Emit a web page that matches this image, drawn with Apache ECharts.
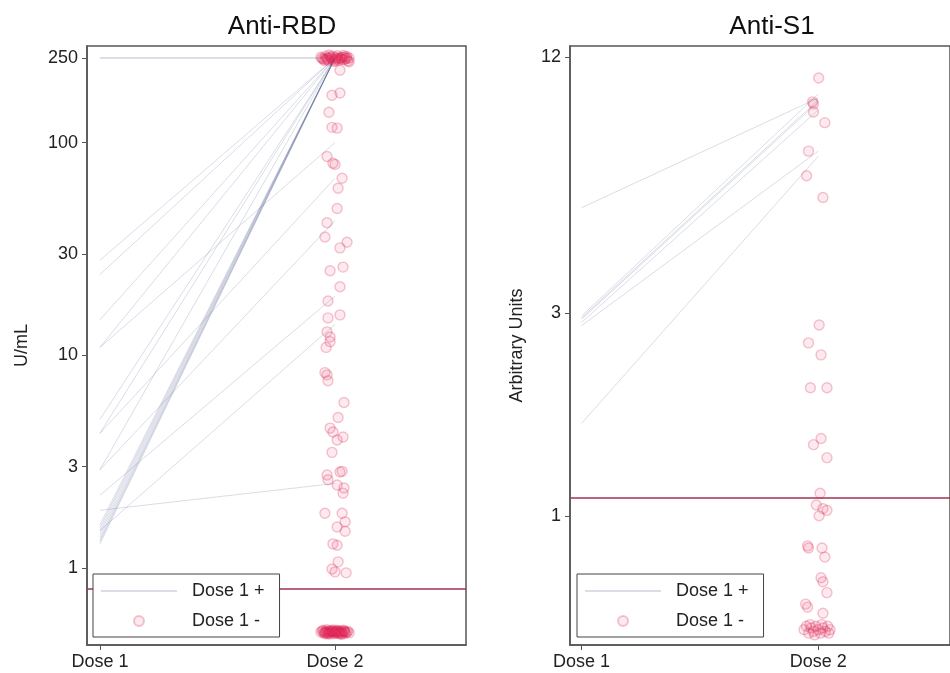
<!DOCTYPE html>
<html>
  <head>
    <meta charset="utf-8">
    <title></title>
    <style>
      html, body{ margin:0; padding:0; background:#fff; }
      #wrap{ width:950px; height:673px; }
    </style>
    <script src="https://cdn.jsdelivr.net/npm/echarts@6/dist/echarts.min.js" charset="utf-8"></script>
  </head>
  <body>
    <div id="wrap"></div>
    <script>
    // x categories (value axis, Dose 1 = 1, Dose 2 = 2)
    var doseLabels = ['Dose 1', 'Dose 2'];
    var panelTitles = ['Anti-RBD', 'Anti-S1'];
    var axisNames = ['U/mL', 'Arbitrary Units'];
    var rbdTicks = [1, 3, 10, 30, 100, 250];
    var s1Ticks = [1, 3, 12];
    var rbdCutoff = 0.8;
    var s1Cutoff = 1.1;

    // Anti-RBD, dose 1 positive: paired values
    var rbdDose1 = [250, 250, 28, 24, 14.7, 10.9, 5.0, 4.3, 2.9, 1.87, 1.3, 1.33, 1.36, 1.4, 1.45, 1.5, 1.55, 1.6, 10.9, 4.3, 2.9, 2.2, 1.5];
    var rbdDose2 = [250, 250, 250, 250, 250, 250, 250, 250, 250, 2.5, 250, 250, 250, 250, 250, 250, 250, 250, 100, 68, 43, 19, 14];

    // Anti-RBD, dose 1 negative: [jittered x, value]
    var rbdNeg = [
      [1.94,252],[1.95,247],[1.96,255],[1.97,249],[1.98,253],[1.99,246],[2.00,251],[2.01,256],[2.02,248],
      [2.03,252],[2.04,245],[2.05,254],[2.06,250],[1.955,243],[1.975,258],[1.995,241],[2.015,244],[2.035,257],
      [2.055,242],[1.965,250],[2.025,250],[2.045,249],[1.985,250],[2.005,247],[2.06,240],
      [1.945,249],[1.97,244],[1.99,255],[2.01,250],[2.03,246],[2.05,249],[1.96,246],[2.0,243],[2.04,253],
      [2.021,219],[1.987,167],[2.021,171],[1.974,139],[1.987,118],[2.009,117],[1.966,86],[1.991,80],[2.0,79],
      [2.03,68],[2.013,61],[2.009,49],[1.966,42],[1.957,36],[2.051,34],[2.021,32],[1.979,25],[2.034,26],
      [2.021,21],[1.97,18],[2.021,15.5],[1.97,15],[1.966,12.9],[1.979,12.2],[1.979,11.6],[1.962,10.9],
      [1.957,8.3],[1.966,8.1],[1.97,7.6],[2.038,6.0],[2.013,5.1],[1.979,4.55],[1.991,4.36],[2.034,4.13],
      [2.009,4.0],[1.987,3.5],[2.021,2.83],[2.03,2.85],[1.966,2.74],[1.97,2.6],[2.009,2.46],[2.038,2.38],
      [2.034,2.25],[1.957,1.81],[2.03,1.81],[2.043,1.65],[2.009,1.56],[2.043,1.49],[1.991,1.30],[2.009,1.28],
      [2.013,1.07],[1.987,0.99],[2.0,0.96],[2.047,0.95],
      [1.94,0.50],[1.95,0.51],[1.96,0.495],[1.97,0.505],[1.98,0.49],[1.99,0.512],[2.00,0.50],[2.01,0.493],
      [2.02,0.508],[2.03,0.497],[2.04,0.503],[2.05,0.50],[2.06,0.496],[1.945,0.507],[1.955,0.492],[1.965,0.513],
      [1.975,0.498],[1.985,0.506],[1.995,0.491],[2.005,0.511],[2.015,0.499],[2.025,0.489],[2.035,0.51],
      [2.045,0.494],[2.055,0.505],[1.962,0.50],[1.982,0.50],[2.002,0.502],[2.022,0.50],[2.042,0.501],
      [1.952,0.499],[1.972,0.495],[1.992,0.504],[2.012,0.506],[2.032,0.49],[1.958,0.503],[1.978,0.508],
      [1.998,0.497],[2.018,0.493],[2.038,0.507],[1.968,0.49],[1.988,0.501],[2.008,0.505],[2.028,0.502]
    ];

    // Anti-S1, dose 1 positive: paired values
    var s1Dose1 = [2.95, 2.92, 2.9, 2.85, 5.3, 2.8, 1.65];
    var s1Dose2 = [9.8, 9.5, 9.4, 9.0, 9.6, 7.2, 7.0];

    // Anti-S1, dose 1 negative: [jittered x, value]
    var s1Neg = [
      [2.002,10.7],[1.976,9.4],[1.98,9.3],[1.98,8.9],[2.028,8.4],[1.959,7.2],[1.951,6.3],[2.02,5.6],
      [2.004,2.81],[1.959,2.55],[2.012,2.39],[1.967,2.0],[2.037,2.0],[1.98,1.47],[2.012,1.52],[2.037,1.37],
      [2.008,1.13],[1.992,1.06],[2.02,1.04],[2.037,1.03],[2.004,1.0],[1.955,0.85],[1.959,0.84],[2.016,0.84],
      [2.028,0.80],[2.012,0.715],[2.02,0.70],[2.037,0.66],[1.947,0.62],[1.955,0.61],[2.02,0.59],
      [1.94,0.54],[1.95,0.55],[1.96,0.53],[1.97,0.545],[1.98,0.535],[1.99,0.55],[2.00,0.54],[2.01,0.53],
      [2.02,0.545],[2.03,0.535],[2.04,0.55],[2.05,0.54],[1.965,0.555],[1.985,0.525],[2.015,0.555],[2.045,0.53]
    ];

    var FONT = 'Liberation Sans, Arial, sans-serif';
    var lineColor = 'rgba(70,85,135,0.2)';
    var dotStyle = {
      color: 'rgba(230,40,90,0.12)',
      borderColor: 'rgba(215,30,80,0.32)',
      borderWidth: 1.4
    };

    function pairSeries(d1, d2, idx) {
      var out = [];
      for (var i = 0; i < d1.length; i++) {
        out.push({
          name: 'Dose 1 +',
          type: 'line',
          xAxisIndex: idx, yAxisIndex: idx,
          symbol: 'none',
          itemStyle: { color: 'rgba(0,0,0,0)' },
          lineStyle: { color: lineColor, width: 1 },
          data: [[1, d1[i]], [2, d2[i]]],
          z: 2
        });
      }
      return out;
    }

    function negSeries(pts, idx, cutoff) {
      return {
        name: 'Dose 1 -',
        type: 'scatter',
        xAxisIndex: idx, yAxisIndex: idx,
        symbol: 'circle',
        symbolSize: 10,
        itemStyle: dotStyle,
        data: pts,
        z: 3,
        markLine: {
          silent: true,
          symbol: ['none', 'none'],
          label: { show: false },
          z: 1,
          lineStyle: { color: '#a3324f', width: 1.5, type: 'solid' },
          data: [{ yAxis: cutoff }]
        }
      };
    }

    function xAxis(idx, min, max) {
      return {
        type: 'value', gridIndex: idx, min: min, max: max,
        splitLine: { show: false },
        axisLine: { lineStyle: { color: '#555', width: 1.5 } },
        axisTick: { length: 5, customValues: [1, 2], lineStyle: { color: '#555' } },
        axisLabel: {
          customValues: [1, 2], margin: 8, fontSize: 18, color: '#222', fontFamily: FONT,
          formatter: function (v) { return doseLabels[Math.round(v) - 1]; }
        }
      };
    }

    function yAxis(idx, min, max, ticks, name, gap) {
      return {
        type: 'log', logBase: 10, gridIndex: idx, min: min, max: max,
        name: name, nameLocation: 'middle', nameGap: gap,
        nameTextStyle: { fontSize: 18, color: '#222', fontFamily: FONT },
        splitLine: { show: false },
        minorTick: { show: false },
        axisLine: { lineStyle: { color: '#555', width: 1.5 } },
        axisTick: { length: 5, customValues: ticks, lineStyle: { color: '#555' } },
        axisLabel: { customValues: ticks, margin: 9, fontSize: 18, color: '#222', fontFamily: FONT }
      };
    }

    function legend(left) {
      return {
        data: ['Dose 1 +', 'Dose 1 -'],
        orient: 'vertical',
        left: left, top: 574,
        z: 20,
        padding: [8, 15, 7, 7],
        itemWidth: 76, itemHeight: 10, itemGap: 12,
        backgroundColor: '#fff',
        borderColor: '#444', borderWidth: 1, borderRadius: 0,
        selectedMode: false,
        textStyle: { fontSize: 18, lineHeight: 18, color: '#222', fontFamily: FONT, padding: [0, 0, 0, 10] }
      };
    }

    var chart = echarts.init(document.getElementById('wrap'));
    var option = {
      animation: false,
      backgroundColor: '#fff',
      title: [
        { text: panelTitles[0], left: 277, top: 9, textAlign: 'center',
          textStyle: { fontSize: 26, fontWeight: 'normal', color: '#111', fontFamily: FONT } },
        { text: panelTitles[1], left: 767, top: 9, textAlign: 'center',
          textStyle: { fontSize: 26, fontWeight: 'normal', color: '#111', fontFamily: FONT } }
      ],
      grid: [
        { left: 87, top: 46, width: 379, height: 599, show: true, borderColor: '#555', borderWidth: 1.5 },
        { left: 570, top: 46, width: 395, height: 599, show: true, borderColor: '#555', borderWidth: 1.5 }
      ],
      xAxis: [xAxis(0, 0.945, 2.557), xAxis(1, 0.951, 2.557)],
      yAxis: [
        yAxis(0, 0.435, 284.6, rbdTicks, axisNames[0], 56),
        yAxis(1, 0.497, 12.72, s1Ticks, axisNames[1], 44)
      ],
      legend: [legend(93), legend(577)],
      series: []
        .concat(pairSeries(rbdDose1, rbdDose2, 0))
        .concat([negSeries(rbdNeg, 0, rbdCutoff)])
        .concat(pairSeries(s1Dose1, s1Dose2, 1))
        .concat([negSeries(s1Neg, 1, s1Cutoff)])
    };
    chart.setOption(option);
    </script>
  </body>
</html>
